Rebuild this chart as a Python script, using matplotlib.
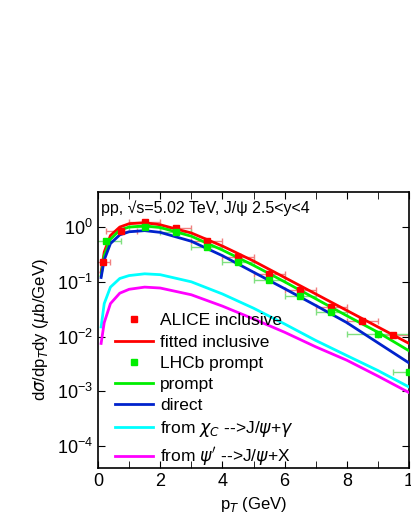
import matplotlib
matplotlib.use("Agg")
import matplotlib.pyplot as plt
import numpy as np

plt.rcParams['font.family'] = ['Liberation Sans', 'DejaVu Sans']

alice_x = [0.15, 0.75, 1.5, 2.5, 3.5, 4.5, 5.5, 6.5, 7.5, 8.5, 9.5]
alice_xerr = [0.25, 0.5, 0.5, 0.5, 0.5, 0.5, 0.5, 0.5, 0.5, 0.5, 0.5]
alice_y = [0.23, 0.85, 1.25, 0.95, 0.55, 0.28, 0.14, 0.07, 0.035, 0.019, 0.0105]
lhcb_x = [0.25, 1.5, 2.5, 3.5, 4.5, 5.5, 6.5, 7.5, 9.0, 10.0]
lhcb_xerr = [0.5, 0.5, 0.5, 0.5, 0.5, 0.5, 0.5, 0.5, 1.0, 0.5]
lhcb_y = [0.55, 1.0, 0.8, 0.43, 0.23, 0.11, 0.055, 0.028, 0.011, 0.0023]

pt = [0.1, 0.2, 0.4, 0.7, 1, 1.5, 2, 3, 4, 5, 6, 7, 8, 9, 10]
fit_incl = [0.15, 0.35, 0.7, 1.0, 1.15, 1.2, 1.1, 0.78, 0.45, 0.24, 0.12, 0.06, 0.03, 0.015, 0.0075]
prompt = [0.13, 0.3, 0.6, 0.88, 1.0, 1.05, 0.98, 0.68, 0.38, 0.2, 0.1, 0.049, 0.024, 0.012, 0.0055]
direct = [0.12, 0.25, 0.5, 0.72, 0.82, 0.86, 0.8, 0.55, 0.3, 0.15, 0.075, 0.037, 0.018, 0.0077, 0.0033]
chic = [0.015, 0.04, 0.08, 0.115, 0.13, 0.14, 0.135, 0.1, 0.06, 0.033, 0.017, 0.0085, 0.0045, 0.0024, 0.0012]
psip = [0.0075, 0.018, 0.04, 0.062, 0.073, 0.08, 0.077, 0.058, 0.036, 0.021, 0.012, 0.0065, 0.0037, 0.0019, 0.00095]

fig = plt.figure(figsize=(4.11, 5.32), dpi=100)
ax = fig.add_axes([98/411, 1-468/532, (409-98)/411, (468-192)/532])

ax.errorbar(alice_x, alice_y, xerr=alice_xerr, fmt='none', ecolor='#f08080', elinewidth=1, capsize=2, zorder=2)
ax.errorbar(lhcb_x, lhcb_y, xerr=lhcb_xerr, fmt='none', ecolor='#80e080', elinewidth=1, capsize=2, zorder=2)
ax.plot(alice_x, alice_y, 's', color='#ff0000', ms=5, label='ALICE inclusive', zorder=4)
ax.plot(pt, fit_incl, '-', color='#ff0000', lw=2, label='fitted inclusive', zorder=3)
ax.plot(lhcb_x, lhcb_y, 's', color='#00ee00', ms=5, label='LHCb prompt', zorder=4)
ax.plot(pt, prompt, '-', color='#00ee00', lw=2, label='prompt', zorder=3)
ax.plot(pt, direct, '-', color='#0022cc', lw=2, label='direct', zorder=3)
ax.plot(pt, chic, '-', color='#00ffff', lw=2, label=r'from $\chi_C$ -->J/$\psi$+$\gamma$', zorder=3)
ax.plot(pt, psip, '-', color='#ff00ff', lw=2, label="from $\\psi'$ -->J/$\\psi$+X", zorder=3)

ax.set_yscale('log')
ax.set_xlim(0, 10)
ax.set_ylim(10**-4.4, 10**0.64)
ax.set_xticks([0, 2, 4, 6, 8, 10])
ax.set_xticklabels(['0', '2', '4', '6', '8', '1'])
ax.set_xticks([1, 3, 5, 7, 9], minor=True)
ax.yaxis.set_minor_locator(matplotlib.ticker.NullLocator())
ax.tick_params(direction='in', which='both', top=True, right=True, labelsize=13, length=5)
for s in ax.spines.values():
    s.set_linewidth(1.2)
ax.set_xlabel(r'p$_T$ (GeV)', fontsize=12)
ax.set_ylabel(r'd$\sigma$/dp$_T$dy ($\mu$b/GeV)', fontsize=12)
ax.text(0.1, 2.2, 'pp, \u221as=5.02 TeV, J/\u03c8 2.5<y<4', fontsize=11.5, va='center')
ax.legend(loc='lower left', frameon=False, fontsize=12.5, handlelength=2.2,
          borderaxespad=0.05, labelspacing=0.35, handletextpad=0.4, bbox_to_anchor=(0.03, -0.03))
fig.savefig('out.png', dpi=100)
